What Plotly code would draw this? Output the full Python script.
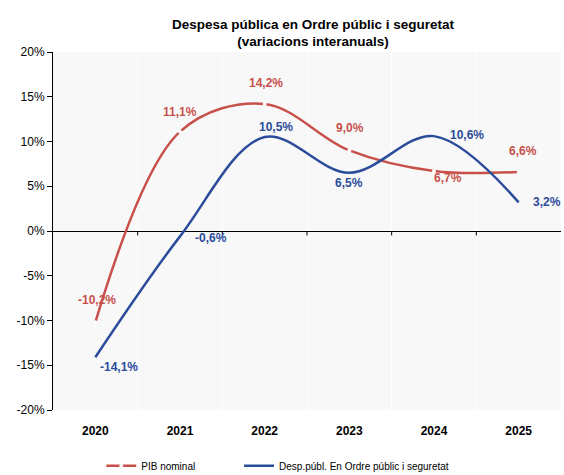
import plotly.graph_objects as go

# --- data -------------------------------------------------------------
years = ["2020", "2021", "2022", "2023", "2024", "2025"]
pib_nominal = [-10.2, 11.1, 14.2, 9.0, 6.7, 6.6]
desp_ordre = [-14.1, -0.6, 10.5, 6.5, 10.6, 3.2]

y_ticks = [-20, -15, -10, -5, 0, 5, 10, 15, 20]
y_tick_text = ["-20%", "-15%", "-10%", "-5%", "0%", "5%", "10%", "15%", "20%"]

RED = "#C8504B"
BLUE = "#2B4C9B"
FONT = "Liberation Sans, Arial, sans-serif"
NBSP = "\u00a0"

# label offsets in pixels (xshift, yshift) per point
red_offsets = [(2, 22), (0, 20), (1, 21), (1, 22), (14, -7), (4, 21)]
blue_offsets = [(24, -10), (31, -2), (11, 10), (0, -10), (33, 1), (28, 0)]


def fmt(v):
    return f"{v:.1f}".replace(".", ",") + "%"


fig = go.Figure()

fig.add_trace(
    go.Scatter(
        x=years,
        y=pib_nominal,
        mode="lines+markers",
        line=dict(color=RED, width=2.5, shape="spline", smoothing=1.0),
        marker=dict(color="white", size=4, line=dict(width=0)),
        name="PIB nominal" + NBSP * 14,  # padding widens the gap to the next legend item
    )
)
fig.add_trace(
    go.Scatter(
        x=years,
        y=desp_ordre,
        mode="lines",
        line=dict(color=BLUE, width=2.5, shape="spline", smoothing=1.0),
        name="Desp.públ. En Ordre públic i seguretat",
    )
)

# data labels (category index used for x so "2020" is not read as a number)
for series, color, offs in ((pib_nominal, RED, red_offsets), (desp_ordre, BLUE, blue_offsets)):
    for i, (v, (dx, dy)) in enumerate(zip(series, offs)):
        fig.add_annotation(
            x=i,
            y=v,
            xref="x",
            yref="y",
            text=f"<b>{fmt(v)}</b>",
            showarrow=False,
            xshift=dx,
            yshift=dy,
            font=dict(family=FONT, size=12, color=color),
        )

# small ticks on the zero line at the category boundaries
for i in range(len(years) - 1):
    fig.add_shape(
        type="line",
        xref="x",
        yref="y",
        x0=i + 0.5,
        x1=i + 0.5,
        y0=0,
        y1=-0.5,
        line=dict(color="black", width=1),
    )

fig.update_layout(
    width=564,
    height=475,
    paper_bgcolor="white",
    plot_bgcolor="#f8f8f8",
    margin=dict(l=53, r=3, t=52, b=65, autoexpand=False),
    title=dict(
        text="<b>Despesa pública en Ordre públic i seguretat<br>(variacions interanuals)</b>",
        x=0.555,
        xanchor="center",
        y=0.94,
        yanchor="top",
        font=dict(family=FONT, size=13.5, color="black"),
    ),
    font=dict(family=FONT, size=12, color="black"),
    showlegend=True,
    legend=dict(
        orientation="h",
        x=0.095,
        xanchor="left",
        y=-0.115,
        yanchor="top",
        font=dict(family=FONT, size=10, color="black"),
        itemwidth=30,
        tracegroupgap=0,
    ),
    xaxis=dict(
        type="category",
        range=[-0.5, 5.5],
        tickson="boundaries",
        showgrid=True,
        gridcolor="#ffffff",
        gridwidth=1,
        ticks="",
        showline=False,
        automargin=False,
        tickfont=dict(family=FONT, size=12, color="black", weight="bold"),
        ticklabelstandoff=12,
    ),
    yaxis=dict(
        range=[-20, 20],
        tickvals=y_ticks,
        ticktext=y_tick_text,
        showgrid=False,
        zeroline=True,
        zerolinecolor="black",
        zerolinewidth=1,
        showline=True,
        linecolor="black",
        linewidth=1,
        ticks="outside",
        ticklen=5,
        tickcolor="black",
        automargin=False,
        tickfont=dict(family=FONT, size=12, color="black"),
    ),
)

# drop the default page margin so the figure sits at the window's corner
fig.write_html(
    "out.html",
    config={"displayModeBar": False},
    post_script="document.body.style.margin='0';document.body.style.overflow='hidden';",
)
